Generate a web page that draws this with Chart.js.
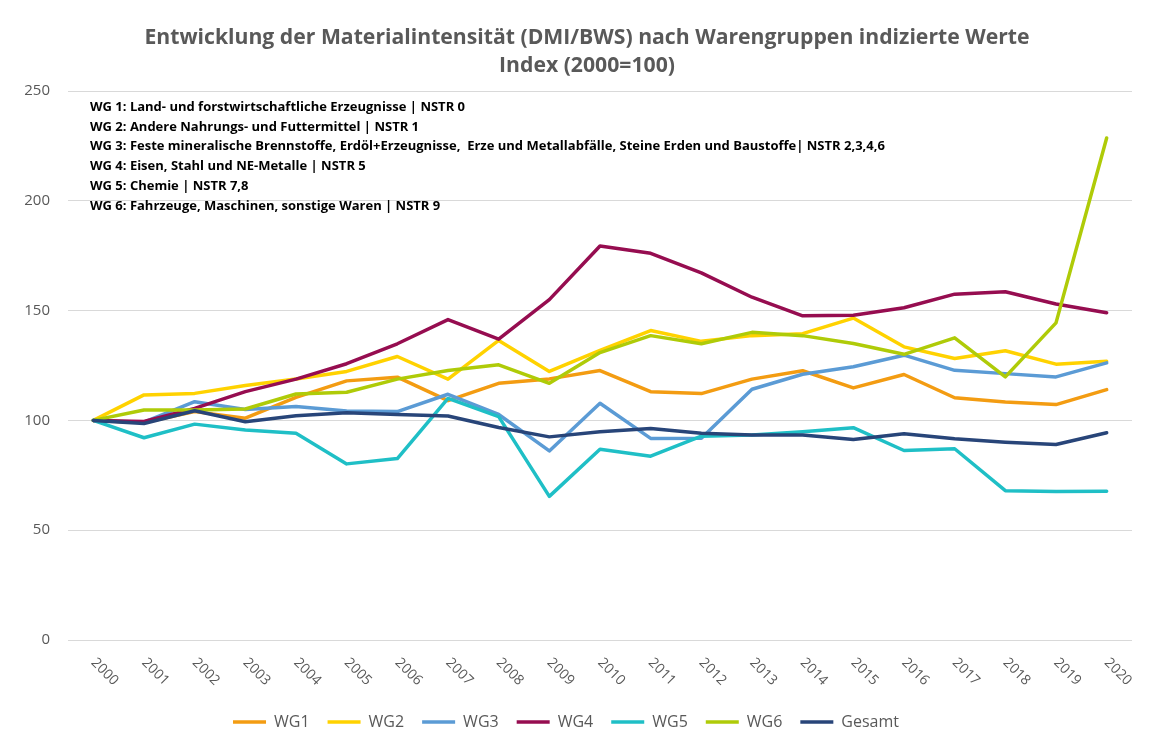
<!DOCTYPE html>
<html><head><meta charset="utf-8">
<script src="https://cdn.jsdelivr.net/npm/chart.js@4"></script>
<style>html,body{margin:0;padding:0;background:#fff}</style>
</head><body>
<canvas id="c" width="1164" height="754"></canvas>
<script>
const years = ['2000','2001','2002','2003','2004','2005','2006','2007','2008','2009','2010','2011','2012','2013','2014','2015','2016','2017','2018','2019','2020'];
const wg1 = [100, 99, 104, 101, 110.5, 118, 119.7, 109, 116.9, 118.9, 122.7, 113.1, 112.2, 118.8, 122.6, 114.8, 120.9, 110.3, 108.4, 107.2, 114];
const wg2 = [100, 111.6, 112.3, 115.9, 118.9, 122.3, 129.1, 118.8, 136.4, 122.3, 131.9, 140.9, 136, 138.6, 139.5, 146.6, 133.5, 128.2, 131.7, 125.6, 126.9];
const wg3 = [100, 99.2, 108.5, 105, 106.3, 104.3, 104, 111.9, 102.7, 86.1, 107.8, 91.8, 91.9, 114.2, 121, 124.4, 129.7, 122.8, 121.3, 119.8, 126.2];
const wg4 = [100, 99.5, 105.5, 113.1, 118.8, 125.8, 134.9, 145.9, 137, 155, 179.4, 176.1, 167.2, 156.1, 147.6, 147.9, 151.3, 157.5, 158.6, 153, 149];
const wg5 = [100, 92.1, 98.3, 95.6, 94.1, 80.2, 82.6, 110, 101.7, 65.4, 86.9, 83.7, 92.8, 93.3, 94.8, 96.7, 86.3, 87.1, 68, 67.6, 67.7];
const wg6 = [100, 104.7, 104.7, 105.2, 112, 112.8, 118.8, 122.7, 125.3, 116.9, 130.9, 138.6, 134.9, 140.1, 138.6, 135, 130.1, 137.6, 119.8, 144.4, 228.6];
const gesamt = [100, 98.6, 104.4, 99.4, 102.1, 103.5, 102.7, 102, 96.8, 92.5, 94.8, 96.3, 94.1, 93.3, 93.4, 91.3, 93.9, 91.6, 90.1, 89, 94.4];

const seriesNames = ['WG1','WG2','WG3','WG4','WG5','WG6','Gesamt'];
const seriesValues = [wg1, wg2, wg3, wg4, wg5, wg6, gesamt];
const seriesColors = ['#F39C12','#FFD200','#5B9BD5','#960D50','#1FBFC6','#AFCB08','#284579'];

const titleLines = ['Entwicklung der Materialintensität (DMI/BWS) nach Warengruppen indizierte Werte', 'Index (2000=100)'];
const noteLines = [
  'WG 1: Land- und forstwirtschaftliche Erzeugnisse | NSTR 0',
  'WG 2: Andere Nahrungs- und Futtermittel | NSTR 1',
  'WG 3: Feste mineralische Brennstoffe, Erdöl+Erzeugnisse,  Erze und Metallabfälle, Steine Erden und Baustoffe| NSTR 2,3,4,6',
  'WG 4: Eisen, Stahl und NE-Metalle | NSTR 5',
  'WG 5: Chemie | NSTR 7,8',
  'WG 6: Fahrzeuge, Maschinen, sonstige Waren | NSTR 9'
];

const FONT = '"Open Sans", "Liberation Sans", sans-serif';

const extrasPlugin = {
  id: 'extras',
  afterDraw(chart) {
    const ctx = chart.ctx;
    const area = chart.chartArea;
    ctx.save();
    // title
    ctx.font = 'bold 21.2px ' + FONT;
    ctx.fillStyle = '#595959';
    ctx.textAlign = 'center';
    ctx.textBaseline = 'middle';
    titleLines.forEach((t, i) => ctx.fillText(t, 587, 38 + i * 28));
    // notes
    ctx.font = 'bold 13px ' + FONT;
    ctx.fillStyle = '#000000';
    ctx.textAlign = 'left';
    noteLines.forEach((t, i) => ctx.fillText(t, area.left + 22, area.top + 16 + i * 19.8));
    // x tick labels, rotated clockwise
    const xs = chart.scales.x;
    ctx.font = '14px ' + FONT;
    ctx.fillStyle = '#595959';
    xs.ticks.forEach((tk, i) => {
      const x = xs.getPixelForTick(i);
      ctx.save();
      ctx.translate(x, area.bottom + 20.5);
      ctx.rotate(Math.PI / 4);
      ctx.fillText(xs.getLabelForValue(tk.value), 0, 0);
      ctx.restore();
    });
    ctx.restore();
  }
};

const datasets = seriesNames.map((name, i) => ({
  label: name,
  data: seriesValues[i],
  borderColor: seriesColors[i],
  backgroundColor: seriesColors[i],
  borderWidth: 3.5,
  borderCapStyle: 'round',
  borderJoinStyle: 'round',
  pointRadius: 0,
  pointHoverRadius: 0,
  tension: 0,
  fill: false,
  order: seriesNames.length - i
}));

new Chart(document.getElementById('c'), {
  type: 'line',
  data: { labels: years, datasets },
  plugins: [extrasPlugin],
  options: {
    responsive: false,
    animation: false,
    devicePixelRatio: 1,
    layout: { padding: { left: 0, right: 32, top: 91, bottom: 14 } },
    plugins: {
      tooltip: { enabled: false },
      title: { display: false },
      legend: {
        position: 'bottom',
        labels: {
          usePointStyle: true,
          pointStyle: 'line',
          pointStyleWidth: 33,
          color: '#595959',
          font: { family: FONT, size: 16 },
          padding: 18,
          sort: (a, b) => a.datasetIndex - b.datasetIndex
        }
      }
    },
    scales: {
      x: {
        offset: true,
        grid: { display: false },
        border: { display: false },
        ticks: { display: false },
        afterFit: (s) => { s.height = 56; }
      },
      y: {
        min: 0, max: 250,
        grid: { color: '#D9D9D9', lineWidth: 1, drawTicks: false },
        border: { display: false },
        ticks: { stepSize: 50, padding: 18, color: '#595959', font: { family: FONT, size: 15 } },
        afterFit: (s) => { s.width = 68; }
      }
    }
  }
});
</script>
</body></html>
